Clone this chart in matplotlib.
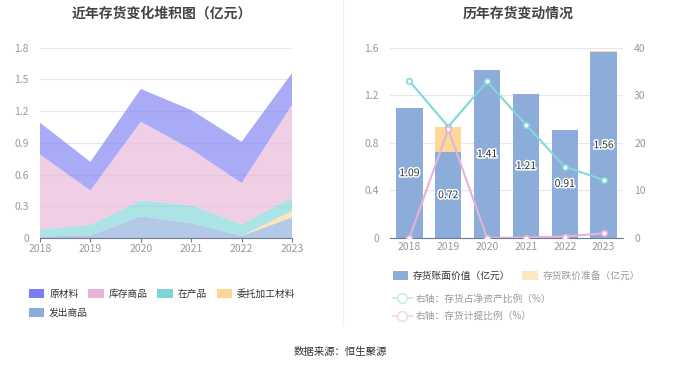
import numpy as np
import matplotlib
matplotlib.use("Agg")
import matplotlib.pyplot as plt
import matplotlib.patheffects as pe
from matplotlib.patches import Patch
from matplotlib.lines import Line2D

plt.rcParams["font.family"] = ["Noto Sans CJK SC", "DejaVu Sans"]

# 数据
years = ["2018", "2019", "2020", "2021", "2022", "2023"]
fachu = [0.015, 0.025, 0.205, 0.14, 0.02, 0.195]      # 发出商品
weituo = [0.0, 0.0, 0.0, 0.0, 0.0, 0.063]             # 委托加工材料
zaichan = [0.065, 0.10, 0.15, 0.17, 0.11, 0.126]      # 在产品
kucun = [0.71, 0.325, 0.745, 0.53, 0.39, 0.876]       # 库存商品
yuancl = [0.30, 0.27, 0.31, 0.37, 0.39, 0.30]         # 原材料

book_value = [1.09, 0.72, 1.41, 1.21, 0.91, 1.56]     # 存货账面价值
provision = [0.0, 0.21, 0.0, 0.0, 0.0, 0.012]         # 存货跌价准备
ratio_net = [33.0, 23.4, 32.9, 23.8, 15.0, 12.2]      # 存货占净资产比例
ratio_prov = [0.0, 22.9, 0.0, 0.1, 0.3, 1.0]          # 存货计提比例

area_names = ["原材料", "库存商品", "在产品", "委托加工材料", "发出商品"]
area_colors = ["#7b7ef2", "#e8b5d9", "#80d4d8", "#fdd595", "#8cabdb"]

grey = "#999999"
fig = plt.figure(figsize=(6.8, 3.67), dpi=100)

# 左图：堆积面积
ax1 = fig.add_axes([40 / 680, 1 - 238 / 367, 252 / 680, 190.3 / 367])
x = np.arange(len(years))
stack = [fachu, weituo, zaichan, kucun, yuancl]
stack_colors = ["#8cabdb", "#fdd595", "#80d4d8", "#e8b5d9", "#7b7ef2"]
ax1.stackplot(x, *stack, colors=stack_colors, alpha=0.65, linewidth=0)
ax1.set_xlim(0, 5)
ax1.set_ylim(0, 1.8)
ax1.set_yticks([0, 0.3, 0.6, 0.9, 1.2, 1.5, 1.8])
ax1.set_yticklabels(["0", "0.3", "0.6", "0.9", "1.2", "1.5", "1.8"])
ax1.set_xticks(x)
ax1.set_xticklabels(years)
ax1.grid(axis="y", color="#e4e6f0", linewidth=0.8)
ax1.set_axisbelow(True)
for s in ["top", "right", "left"]:
    ax1.spines[s].set_visible(False)
ax1.spines["bottom"].set_color("#6e7a96")
ax1.tick_params(axis="y", length=0, colors=grey, labelsize=7.5, pad=8)
ax1.tick_params(axis="x", length=3, color="#6e7a96", colors=grey, labelsize=7.5, pad=1)
fig.text(162 / 680, 1 - 14 / 367, "近年存货变化堆积图（亿元）", ha="center", va="center",
         fontsize=10, fontweight="bold", color="#444444")

# 右图：柱状 + 折线
ax2 = fig.add_axes([390 / 680, 1 - 238 / 367, 233 / 680, 190.3 / 367])
ax2.bar(x, book_value, width=0.68, color="#8cadda", zorder=2)
ax2.bar(x, provision, width=0.68, bottom=book_value, color="#fed899", zorder=2)
for xi, v in zip(x, book_value):
    ax2.text(xi, v / 2, f"{v:.2f}", ha="center", va="center", fontsize=7.5, color="#333333",
             zorder=5, path_effects=[pe.withStroke(linewidth=2.2, foreground="white")])
ax2.set_xlim(-0.5, 5.5)
ax2.set_ylim(0, 1.6)
ax2.set_yticks([0, 0.4, 0.8, 1.2, 1.6])
ax2.set_yticklabels(["0", "0.4", "0.8", "1.2", "1.6"])
ax2.set_xticks(x)
ax2.set_xticklabels(years)
ax2.grid(axis="y", color="#e4e6f0", linewidth=0.8)
ax2.set_axisbelow(True)
for s in ["top", "right", "left"]:
    ax2.spines[s].set_visible(False)
ax2.spines["bottom"].set_color("#6e7a96")
ax2.tick_params(axis="y", length=0, colors=grey, labelsize=7.5, pad=8)
ax2.tick_params(axis="x", length=0, colors=grey, labelsize=7.5, pad=3)

ax3 = ax2.twinx()
ax3.plot(x, ratio_net, color="#82d8d8", linewidth=1.5, marker="o", markersize=4,
         markerfacecolor="white", markeredgewidth=1.2, zorder=4)
ax3.plot(x, ratio_prov, color="#e8b1d7", linewidth=1.5, marker="o", markersize=4,
         markerfacecolor="white", markeredgewidth=1.2, zorder=4)
ax3.set_ylim(0, 40)
ax3.set_yticks([0, 10, 20, 30, 40])
for s in ["top", "right", "left", "bottom"]:
    ax3.spines[s].set_visible(False)
ax3.tick_params(axis="y", length=0, colors=grey, labelsize=7.5, pad=8)
fig.text(518 / 680, 1 - 14 / 367, "历年存货变动情况", ha="center", va="center",
         fontsize=10, fontweight="bold", color="#444444")

# 分隔线
fig.add_artist(Line2D([343 / 680, 343 / 680], [1 - 325 / 367, 1.0], color="#f0f0f0", linewidth=1))

# 左图图例
def patch(c):
    return Patch(facecolor=c, edgecolor="none")

fig.legend([patch(c) for c in area_colors[:4]], area_names[:4], ncol=4,
           loc="center left", bbox_to_anchor=(20 / 680, 1 - 294 / 367), frameon=False,
           fontsize=7, handlelength=1.6, handleheight=1.1, handletextpad=0.5,
           columnspacing=1.0, labelcolor="#333333")
fig.legend([patch(area_colors[4])], area_names[4:], loc="center left",
           bbox_to_anchor=(20 / 680, 1 - 313 / 367), frameon=False, fontsize=7,
           handlelength=1.6, handleheight=1.1, handletextpad=0.5, labelcolor="#333333")

# 右图图例
fig.legend([patch("#8cadda"), patch("#fde6c2")], ["存货账面价值（亿元）", "存货跌价准备（亿元）"],
           ncol=2, loc="center left", bbox_to_anchor=(384 / 680, 1 - 276 / 367), frameon=False,
           fontsize=7, handlelength=1.6, handleheight=1.1, handletextpad=0.5,
           columnspacing=1.2, labelcolor=["#333333", grey])
line_handles = [
    Line2D([0], [0], color="#bfeaea", linewidth=1.2, marker="o", markersize=7,
           markerfacecolor="white", markeredgewidth=1.0),
    Line2D([0], [0], color="#f2d3e8", linewidth=1.2, marker="o", markersize=7,
           markerfacecolor="white", markeredgewidth=1.0),
]
fig.legend(line_handles, ["右轴：存货占净资产比例（%）", "右轴：存货计提比例（%）"],
           loc="upper left", bbox_to_anchor=(384 / 680, 1 - 285 / 367), frameon=False,
           fontsize=7, handlelength=2.0, handletextpad=0.4, labelspacing=0.75,
           labelcolor=grey)

fig.text(340 / 680, 1 - 352 / 367, "数据来源：恒生聚源", ha="center", va="center",
         fontsize=7.5, color="#333333")

fig.savefig("out.png", dpi=100)
